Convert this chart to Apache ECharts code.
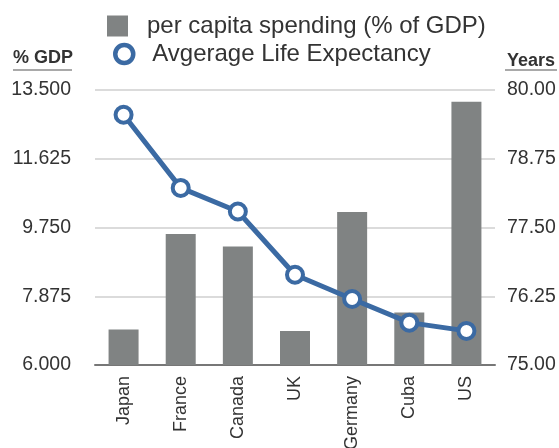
<!DOCTYPE html>
<html><head><meta charset="utf-8">
<script src="https://cdn.jsdelivr.net/npm/echarts@6/dist/echarts.min.js"></script>
<style>html,body{margin:0;padding:0;background:#fff}#c{width:559px;height:448px}</style>
</head><body><div id="c"></div>
<script>
const categories = ['Japan','France','Canada','UK','Germany','Cuba','US'];
const spending = [6.97, 9.57, 9.23, 6.93, 10.17, 7.43, 13.18];
const lifeExpectancy = [79.55, 78.22, 77.79, 76.64, 76.20, 75.77, 75.62];
const leftTicks = ['6.000','7.875','9.750','11.625','13.500'];
const rightTicks = ['75.00','76.25','77.50','78.75','80.00'];
const barName = 'per capita spending (% of GDP)';
const lineName = 'Avgerage Life Expectancy';

const BLUE = '#3b6aa3', GRAY = '#808383', TXT = '#333';
const font = 'Liberation Sans, Arial, sans-serif';

const chart = echarts.init(document.getElementById('c'), null, {renderer:'canvas'});
chart.setOption({
  animation:false,
  textStyle:{fontFamily:font},
  grid:{left:95, right:64, top:90, bottom:83, containLabel:false, outerBoundsMode:'none'},
  legend:[
    {left:102, top:9, itemWidth:21, itemHeight:21, icon:'rect',
     data:[barName], textStyle:{fontSize:24, color:TXT, padding:[0,0,0,14], fontFamily:font}},
    {left:108, top:37, itemWidth:18, itemHeight:18,
     data:[{name:lineName, icon:'circle', itemStyle:{color:'#fff', borderColor:BLUE, borderWidth:4.5}}],
     textStyle:{fontSize:24, color:TXT, padding:[0,0,0,14], fontFamily:font}}
  ],
  xAxis:{type:'category', data:categories,
    axisLine:{lineStyle:{color:'#777', width:2}}, axisTick:{show:false},
    axisLabel:{rotate:90, fontSize:18, color:TXT, margin:11, fontFamily:font}},
  yAxis:[
    {type:'value', min:6, max:13.5, interval:1.875, position:'left',
     axisLine:{show:false}, axisTick:{show:false},
     splitLine:{lineStyle:{color:'#cfcfcf', width:1.5}},
     axisLabel:{fontSize:19.5, color:TXT, margin:24, fontFamily:font,
       formatter:(v)=>leftTicks[Math.round((v-6)/1.875)]}},
    {type:'value', min:75, max:80, interval:1.25, position:'right',
     axisLine:{show:false}, axisTick:{show:false}, splitLine:{show:false},
     axisLabel:{fontSize:19.5, color:TXT, margin:12, fontFamily:font,
       formatter:(v)=>rightTicks[Math.round((v-75)/1.25)]}}
  ],
  graphic:[
    {type:'text', left:13, top:49, style:{text:'% GDP', font:'bold 18px '+font, fill:TXT}},
    {type:'line', shape:{x1:13,y1:70,x2:72,y2:70}, style:{stroke:'#555', lineWidth:1.2}},
    {type:'text', left:507, top:52, style:{text:'Years', font:'bold 18px '+font, fill:TXT}},
    {type:'line', shape:{x1:505,y1:70,x2:557,y2:70}, style:{stroke:'#555', lineWidth:1.2}}
  ],
  series:[
    {name:barName, type:'bar', data:spending, barWidth:30, yAxisIndex:0,
     itemStyle:{color:GRAY}},
    {name:lineName, type:'line', data:lifeExpectancy, yAxisIndex:1,
     symbol:'circle', symbolSize:16,
     lineStyle:{color:BLUE, width:5},
     itemStyle:{color:'#fff', borderColor:BLUE, borderWidth:4}}
  ]
});
</script></body></html>
